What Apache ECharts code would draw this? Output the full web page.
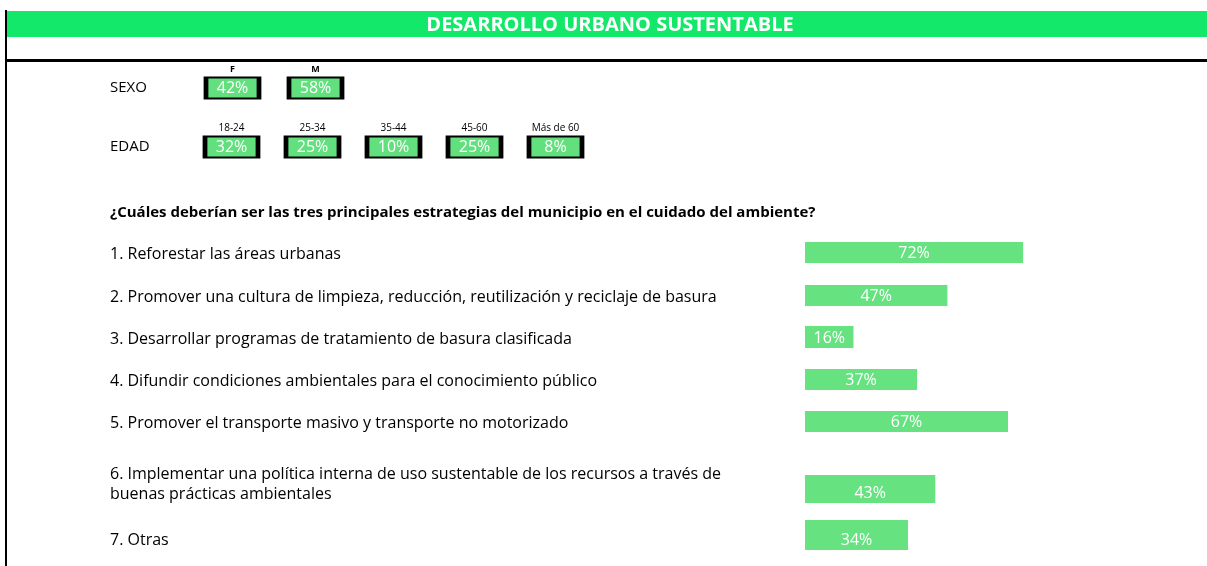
<!DOCTYPE html>
<html>
<head>
<meta charset="utf-8">
<script src="https://cdn.jsdelivr.net/npm/echarts@6/dist/echarts.min.js"></script>
<style>html,body{margin:0;padding:0;background:#fff}#c{width:1207px;height:566px}</style>
</head>
<body>
<div id="c"></div>
<script>
// ---- data ----
const chartTitle = 'DESARROLLO URBANO SUSTENTABLE';
const question = '¿Cuáles deberían ser las tres principales estrategias del municipio en el cuidado del ambiente?';
const sexCats = ['F', 'M'];
const sexVals = [42, 58];
const ageCats = ['18-24', '25-34', '35-44', '45-60', 'Más de 60'];
const ageVals = [32, 25, 10, 25, 8];
const items = [
  '1. Reforestar las áreas urbanas',
  '2. Promover una cultura de limpieza, reducción, reutilización y reciclaje de basura',
  '3. Desarrollar programas de tratamiento de basura clasificada',
  '4. Difundir condiciones ambientales para el conocimiento público',
  '5. Promover el transporte masivo y transporte no motorizado',
  '6. Implementar una política interna de uso sustentable de los recursos a través de\nbuenas prácticas ambientales',
  '7. Otras'
];
const itemVals = [72, 47, 16, 37, 67, 43, 34];

// ---- layout ----
const FONT = 'Open Sans';
const ROW_FS = 16;
const barGreen = '#66e280';
const boxGreen = '#62e07e';
const rowLayout = [
  {top: 242, h: 21, shift: 2, valOff: 1},
  {top: 285, h: 21, shift: 2, valOff: 1},
  {top: 326, h: 22, shift: 2, valOff: 1},
  {top: 369, h: 21, shift: 2, valOff: 1},
  {top: 411, h: 21, shift: 2, valOff: 1},
  {top: 475, h: 28, shift: -5, valOff: 4},
  {top: 520, h: 30, shift: 5, valOff: 5}
];
const barLeft = 805, barWidth = 303, textX = 110;

const grids = [], xAxes = [], yAxes = [], series = [];

// header boxes (SEXO / EDAD)
function addBoxes(label, cats, vals, top, step, headerBold) {
  const gi = grids.length;
  grids.push({left: 191, top: top, width: cats.length * step, height: 24});
  xAxes.push({
    gridIndex: gi, type: 'category', data: cats, position: 'top',
    axisLine: {show: false}, axisTick: {show: false}, splitLine: {show: false},
    axisLabel: {show: true, margin: 2, fontSize: headerBold ? 9 : 10, fontWeight: headerBold ? 'bold' : 'normal', color: '#000', fontFamily: FONT, interval: 0}
  });
  yAxes.push({
    gridIndex: gi, type: 'category', data: [label],
    axisLine: {show: false}, axisTick: {show: false}, splitLine: {show: false},
    axisLabel: {show: true, margin: 191 - textX, align: 'left', fontSize: 15, color: '#000', fontFamily: FONT}
  });
  series.push({
    type: 'scatter', xAxisIndex: gi, yAxisIndex: gi,
    symbol: 'rect', symbolSize: [53, 21],
    itemStyle: {color: boxGreen, borderColor: '#000', borderWidth: 3, opacity: 1},
    label: {show: true, position: 'inside', color: '#fff', fontSize: ROW_FS, fontFamily: FONT,
      formatter: p => p.value[2] + '%'},
    emphasis: {disabled: true},
    data: cats.map((c, i) => [c, label, vals[i]])
  });
}
addBoxes('SEXO', sexCats, sexVals, 76, 83, true);
addBoxes('EDAD', ageCats, ageVals, 135, 81, false);

// item rows
items.forEach((name, i) => {
  const L = rowLayout[i];
  const gi = grids.length;
  grids.push({left: barLeft, top: L.top, width: barWidth, height: L.h});
  xAxes.push({gridIndex: gi, type: 'value', min: 0, max: 100, show: false});
  const sp = Math.abs(L.shift) * 2;
  yAxes.push({
    gridIndex: gi, type: 'category', data: [name],
    axisLine: {show: false}, axisTick: {show: false}, splitLine: {show: false},
    axisLabel: {
      show: true, margin: barLeft - textX, align: 'left', color: '#000',
      formatter: v => {
        const lines = v.split('\n').map(ln => '{t|' + ln + '}');
        if (L.shift > 0) lines.unshift('{s| }');
        if (L.shift < 0) lines.push('{s| }');
        return lines.join('\n');
      },
      rich: {
        t: {fontSize: ROW_FS, fontFamily: FONT, color: '#000', lineHeight: 20},
        s: {fontSize: 4, lineHeight: sp || 1}
      }
    }
  });
  series.push({
    type: 'bar', xAxisIndex: gi, yAxisIndex: gi, barWidth: '100%',
    itemStyle: {color: barGreen},
    label: {show: true, position: 'inside', color: '#fff', fontSize: ROW_FS, fontFamily: FONT,
      offset: [0, L.valOff], formatter: p => p.value + '%'},
    emphasis: {disabled: true},
    data: [itemVals[i]]
  });
});

const chart = echarts.init(document.getElementById('c'), null, {renderer: 'canvas'});
chart.setOption({
  animation: false,
  textStyle: {fontFamily: FONT},
  grid: grids, xAxis: xAxes, yAxis: yAxes, series: series,
  graphic: [
    {type: 'rect', shape: {x: 7, y: 11, width: 1200, height: 26}, style: {fill: '#13e86a'}, silent: true},
    {type: 'text', x: 610, y: 25, style: {text: chartTitle, fill: '#fff', font: 'bold 20px "' + FONT + '"', textAlign: 'center', textVerticalAlign: 'middle'}, silent: true},
    {type: 'rect', shape: {x: 5, y: 10, width: 2, height: 556}, style: {fill: '#000'}, silent: true},
    {type: 'rect', shape: {x: 5, y: 59, width: 1202, height: 3}, style: {fill: '#000'}, silent: true},
    {type: 'text', x: textX, y: 213, style: {text: question, fill: '#000', font: 'bold 15px "' + FONT + '"', textVerticalAlign: 'middle'}, silent: true}
  ]
});
</script>
</body>
</html>
